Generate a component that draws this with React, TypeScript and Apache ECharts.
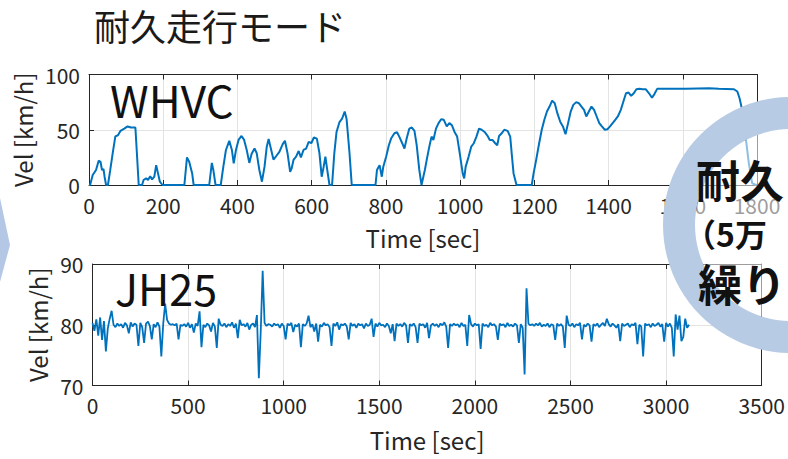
import React, { useEffect, useRef } from "react";
import * as echarts from "echarts";

const titleText = "耐久走行モード";
const topLabel = "WHVC";
const bottomLabel = "JH25";
const xName = "Time [sec]";
const yName = "Vel [km/h]";
const ringLines = ["耐久", "（5万", "繰り"];

const whvcTime = [
  0, 3, 10, 19, 26, 31, 35, 39, 42, 46, 51, 57, 64, 71, 78, 85, 95, 104, 113, 125,
  129, 134, 143, 147, 154, 159, 165, 170, 176, 181, 186, 191, 198, 257, 264, 270, 278, 282, 324, 331,
  335, 341, 355, 362, 369, 378, 385, 390, 396, 403, 411, 418, 425, 432, 438, 446, 452, 459, 466, 473,
  479, 484, 491, 497, 504, 513, 522, 528, 535, 542, 546, 551, 558, 565, 571, 578, 585, 592, 599, 606,
  614, 621, 627, 632, 637, 642, 648, 655, 661, 667, 675, 682, 689, 694, 702, 708, 772, 776, 783, 789,
  793, 801, 808, 814, 823, 830, 836, 844, 850, 856, 863, 870, 877, 883, 890, 896, 905, 910, 917, 923,
  928, 935, 942, 949, 956, 964, 971, 978, 985, 992, 999, 1007, 1011, 1015, 1023, 1030, 1037, 1044, 1051, 1058,
  1066, 1073, 1080, 1087, 1094, 1100, 1105, 1112, 1119, 1128, 1135, 1139, 1144, 1152, 1193, 1198, 1205, 1212, 1220, 1227,
  1234, 1241, 1248, 1255, 1262, 1270, 1277, 1284, 1291, 1298, 1305, 1313, 1320, 1327, 1334, 1340, 1347, 1354, 1361, 1368,
  1375, 1382, 1390, 1397, 1404, 1411, 1418, 1425, 1433, 1440, 1447, 1454, 1461, 1468, 1475, 1483, 1492, 1500, 1509, 1517,
  1524, 1531, 1545, 1608, 1671, 1697, 1738, 1747, 1753, 1760, 1767, 1778, 1787, 1795, 1800,
];
const whvcSpeed = [
  0, 0, 9, 13.6, 22, 21, 13.6, 14.5, 7.5, 0, 0, 13, 29, 44, 45, 49, 51, 53, 52, 52,
  29, 0, 0, 4.5, 6, 4.5, 8, 5, 7.5, 18, 10.5, 3, 0, 0, 25, 21, 10.5, 0, 0, 20,
  13.6, 0, 0, 16.6, 31.7, 40, 31.7, 19.6, 31.7, 40.8, 44.4, 40.8, 31.7, 20, 28, 33, 28.7, 13.6, 3, 16.6,
  34.7, 41.7, 31.7, 23, 26, 30, 37, 40, 28.7, 12, 15, 22.7, 25.7, 30.8, 25, 31.7, 33, 39, 37.8, 43,
  42, 28.7, 7.5, 16, 25.7, 13.6, 0, 0, 28.7, 48, 57, 60, 66.5, 60, 28.7, 0, 0, 13.6, 18, 7.5,
  16.6, 26, 36, 42, 46.8, 47.7, 43.8, 37.8, 33, 42, 51, 52, 49, 36, 13.6, 0, 13.6, 22.7, 34.7, 43.8,
  40.8, 51, 56, 59.5, 59, 53, 56, 54, 48, 43.8, 28.7, 10.5, 6, 16.6, 25.7, 34.7, 37.8, 43.8, 51, 50,
  48, 45, 40.8, 40.8, 38, 36, 44.4, 46.8, 50, 49, 43.8, 28.7, 10.5, 0, 0, 10.5, 22.7, 36, 50, 59,
  66.5, 71, 76.4, 74, 65, 57, 53, 46, 56, 66.5, 72.5, 75, 74, 71, 68, 62, 66.5, 71, 68, 62,
  56, 53, 50, 50.5, 53, 56, 59, 62, 68, 75.5, 83, 83.7, 80.7, 83, 86.7, 87, 86.7, 86.7, 83, 79,
  82.5, 87, 87, 87, 87.6, 87, 86.7, 84.6, 78.5, 68, 50, 19.6, 1.5, 0.5, 0,
];

const jh25Start = 0;
const jh25Step = 10;
const jh25Speed = [
  80.3, 79.0, 80.9, 78.2, 81.2, 77.5, 80.6, 75.6, 79.4, 81.0,
  82.3, 80.0, 79.6, 80.2, 79.8, 80.1, 79.5, 80.3, 79.9, 78.6,
  80.4, 79.7, 80.2, 80.0, 76.5, 80.3, 79.6, 77.0, 80.2, 80.5,
  79.8, 77.6, 80.1, 79.6, 80.4, 79.7, 74.8, 80.2, 83.5, 80.8,
  80.2, 80.0, 80.1, 79.9, 80.2, 77.6, 80.0, 79.8, 80.1, 79.7,
  80.3, 79.5, 80.1, 78.7, 80.2, 79.8, 82.2, 76.3, 80.0, 79.6,
  80.2, 79.9, 78.9, 80.3, 79.7, 76.2, 81.0, 80.0, 79.8, 80.2,
  79.6, 80.1, 79.8, 80.4, 79.5, 80.2, 77.8, 80.8, 79.9, 80.1,
  79.7, 80.3, 79.2, 80.0, 80.2, 79.6, 81.6, 71.2, 79.0, 88.9,
  80.3, 79.8, 80.1, 80.0, 79.7, 80.2, 79.9, 80.1, 79.5, 80.2,
  79.8, 77.6, 80.2, 79.9, 80.3, 78.8, 80.0, 79.7, 80.2, 76.3,
  80.1, 79.8, 80.2, 81.5, 79.6, 80.1, 78.9, 80.2, 77.2, 80.0,
  79.7, 80.3, 79.9, 80.1, 79.6, 76.5, 80.2, 79.8, 80.4, 79.2,
  80.1, 79.9, 80.2, 79.7, 77.6, 80.3, 79.8, 80.1, 79.5, 80.2,
  79.9, 80.1, 79.4, 80.2, 79.8, 80.0, 81.0, 78.0, 80.2, 79.7,
  80.3, 79.9, 80.0, 79.6, 80.2, 79.8, 78.6, 80.1, 77.3, 80.2,
  79.8, 80.1, 79.7, 80.3, 79.9, 77.0, 80.1, 79.8, 80.2, 79.6,
  77.0, 80.2, 79.9, 80.1, 79.5, 80.3, 77.8, 79.9, 80.2, 79.8,
  80.1, 79.6, 80.2, 79.9, 80.4, 79.7, 76.2, 80.1, 79.8, 80.2,
  79.9, 80.1, 79.6, 80.3, 79.8, 80.0, 76.5, 81.6, 80.1, 79.7,
  80.2, 79.9, 80.1, 76.0, 80.2, 79.8, 80.0, 79.6, 80.3, 79.9,
  80.1, 79.7, 77.5, 80.2, 79.9, 80.1, 79.6, 80.3, 79.8, 80.0,
  79.7, 80.2, 79.9, 77.0, 80.1, 79.5, 71.8, 86.0, 80.2, 79.9,
  80.1, 79.8, 80.2, 79.9, 80.3, 79.7, 80.0, 79.8, 80.2, 79.6,
  80.1, 79.9, 77.5, 80.2, 79.8, 80.1, 79.7, 76.2, 81.5, 80.0,
  79.8, 80.2, 79.6, 80.1, 79.9, 80.3, 77.6, 80.0, 79.7, 80.2,
  79.9, 77.2, 80.1, 79.8, 80.2, 79.6, 80.0, 80.3, 79.8, 81.0,
  80.1, 79.7, 80.2, 79.9, 79.5, 80.1, 77.3, 80.2, 79.8, 80.0,
  80.2, 79.6, 80.1, 79.9, 80.3, 76.8, 80.0, 79.7, 74.8, 80.2,
  79.9, 80.1, 79.6, 80.2, 79.8, 80.0, 80.3, 79.7, 80.1, 77.2,
  80.3, 79.7, 80.2, 79.5, 74.8, 81.7, 79.2, 81.5, 77.3, 78.0,
  81.0, 79.5, 80.0,
];

const FONT = "'Noto Sans CJK JP', 'Noto Sans', sans-serif";
const AX = "#262626";
const LINE = "#0072BD";
const plain = (v: number) => String(v);

function makeXAxis(gridIndex: number, max: number, interval: number, nameGap: number) {
  const common = {
    type: "value" as const,
    gridIndex,
    min: 0,
    max,
    interval,
    axisLine: { show: true, onZero: false, lineStyle: { color: AX, width: 1 } },
    axisTick: { show: true, inside: true, length: 5, lineStyle: { color: AX } },
  };
  return [
    {
      ...common,
      position: "bottom",
      splitLine: { show: true, lineStyle: { color: "#e3e3e3", width: 1 } },
      axisLabel: { color: AX, fontSize: 21, fontFamily: FONT, margin: 9, formatter: plain },
      name: xName,
      nameLocation: "middle",
      nameGap,
      nameTextStyle: { color: AX, fontSize: 24, fontFamily: FONT },
    },
    {
      ...common,
      position: "top",
      splitLine: { show: false },
      axisLabel: { show: false },
    },
  ];
}

function makeYAxis(gridIndex: number, min: number, max: number, interval: number, nameGap: number) {
  const common = {
    type: "value" as const,
    gridIndex,
    min,
    max,
    interval,
    axisLine: { show: true, onZero: false, lineStyle: { color: AX, width: 1 } },
    axisTick: { show: true, inside: true, length: 5, lineStyle: { color: AX } },
  };
  return [
    {
      ...common,
      position: "left",
      splitLine: { show: true, lineStyle: { color: "#e3e3e3", width: 1 } },
      axisLabel: { color: AX, fontSize: 21, fontFamily: FONT, margin: 9, formatter: plain },
      name: yName,
      nameLocation: "middle",
      nameRotate: 90,
      nameGap,
      nameTextStyle: { color: AX, fontSize: 24, fontFamily: FONT },
    },
    {
      ...common,
      position: "right",
      splitLine: { show: false },
      axisLabel: { show: false },
    },
  ];
}

export default function App() {
  const ref = useRef<HTMLDivElement>(null);

  useEffect(() => {
    if (!ref.current) return;
    const chart = echarts.init(ref.current, null, { renderer: "svg" });

    const whvcData = whvcTime.map((t, i) => [t, whvcSpeed[i]]);
    const jh25Data = jh25Speed.map((v, i) => [jh25Start + i * jh25Step, v]);

    const ringCx = 791;
    const ringCy = 225;

    chart.setOption({
      animation: false,
      backgroundColor: "#ffffff",
      textStyle: { fontFamily: FONT },
      grid: [
        { left: 89, top: 74.5, width: 668, height: 110.5, containLabel: false },
        { left: 92.5, top: 264, width: 671, height: 121.5, containLabel: false },
      ],
      xAxis: [...makeXAxis(0, 1800, 200, 40), ...makeXAxis(1, 3500, 500, 42)],
      yAxis: [...makeYAxis(0, 0, 100, 50, 42), ...makeYAxis(1, 70, 90, 10, 38)],
      series: [
        {
          type: "line",
          xAxisIndex: 0,
          yAxisIndex: 0,
          data: whvcData,
          showSymbol: false,
          lineStyle: { color: LINE, width: 2 },
          itemStyle: { color: LINE },
          clip: true,
          z: 3,
        },
        {
          type: "line",
          xAxisIndex: 2,
          yAxisIndex: 2,
          data: jh25Data,
          showSymbol: false,
          lineStyle: { color: LINE, width: 1.8 },
          itemStyle: { color: LINE },
          clip: true,
          z: 3,
        },
      ],
      graphic: [
        {
          type: "text",
          left: 94,
          top: 7,
          style: { text: titleText, fontSize: 36, fontFamily: FONT, fill: "#1a1a1a" },
        },
        {
          type: "text",
          x: 110,
          y: 99,
          style: { text: topLabel, fontSize: 44, fontFamily: FONT, fill: "#111111", verticalAlign: "middle" },
          z: 10,
        },
        {
          type: "text",
          x: 115,
          y: 287,
          style: { text: bottomLabel, fontSize: 43, fontFamily: FONT, fill: "#111111", verticalAlign: "middle" },
          z: 10,
        },
        {
          type: "polygon",
          shape: { points: [[0, 198], [10, 245], [0, 282]] },
          style: { fill: "#b4c7e4" },
          z: 20,
        },
        {
          type: "circle",
          shape: { cx: ringCx, cy: ringCy, r: 96 },
          style: { fill: "rgba(255,255,255,0.55)" },
          z: 20,
        },
        {
          type: "ring",
          shape: { cx: ringCx, cy: ringCy, r: 128, r0: 96 },
          style: { fill: "#b8cbe4" },
          z: 21,
        },
        {
          type: "text",
          x: 696,
          y: 179,
          style: { text: ringLines[0], fontSize: 44, fontWeight: "bold", fontFamily: FONT, fill: "#111111", verticalAlign: "middle" },
          z: 22,
        },
        {
          type: "text",
          x: 684,
          y: 233,
          style: { text: ringLines[1], fontSize: 32, fontWeight: "bold", fontFamily: FONT, fill: "#111111", verticalAlign: "middle" },
          z: 22,
        },
        {
          type: "text",
          x: 698,
          y: 283,
          style: { text: ringLines[2], fontSize: 44, fontWeight: "bold", fontFamily: FONT, fill: "#111111", verticalAlign: "middle" },
          z: 22,
        },
      ],
    });

    return () => chart.dispose();
  }, []);

  return (
    <div
      ref={ref}
      style={{ position: "absolute", left: 0, top: 0, width: 788, height: 459, background: "#fff" }}
    />
  );
}
